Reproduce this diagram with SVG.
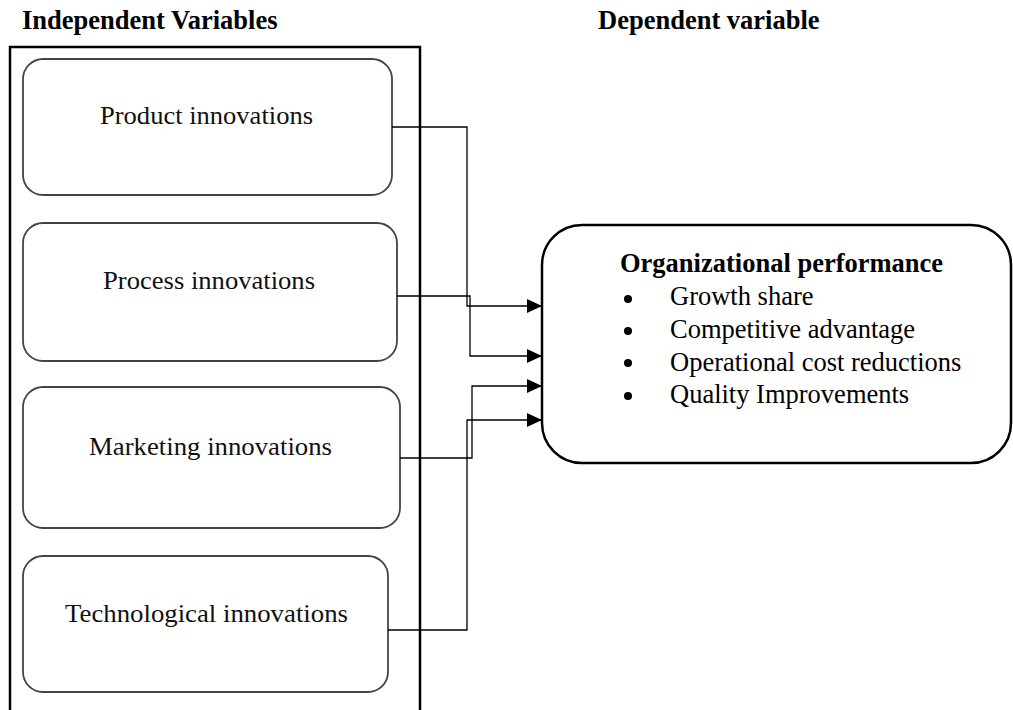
<svg xmlns="http://www.w3.org/2000/svg" width="1013" height="710" viewBox="0 0 1013 710">
<style>
.head{font-family:"Liberation Serif","Times New Roman",serif;font-weight:bold;font-size:26.5px;fill:#000}
.lbl{font-family:"Liberation Serif","Times New Roman",serif;font-size:25px;fill:#111}
.item{font-family:"Liberation Serif","Times New Roman",serif;font-size:26.5px;fill:#000}
.iv{fill:#fff;stroke:#444;stroke-width:1.8}
.conn{fill:none;stroke:#000;stroke-width:1.3}
</style>
<defs>
<marker id="arr" markerUnits="userSpaceOnUse" markerWidth="16" markerHeight="15" refX="15" refY="7" orient="auto">
<path d="M0,0 L15,7 L0,14 z" fill="#000"/>
</marker>
</defs>
<rect width="1013" height="710" fill="#fff"/>
<text class="head" x="22" y="29">Independent Variables</text>
<text class="head" x="598" y="29">Dependent variable</text>
<rect id="frame" x="10" y="47" width="410" height="700" fill="none" stroke="#000" stroke-width="2.5"/>
<g id="product">
<rect class="iv" x="23" y="59" width="369" height="136" rx="20"/>
<text class="lbl" x="100" y="124" textLength="213" lengthAdjust="spacingAndGlyphs">Product innovations</text>
</g>
<g id="process">
<rect class="iv" x="23" y="223" width="374" height="138" rx="20"/>
<text class="lbl" x="103" y="289" textLength="212" lengthAdjust="spacingAndGlyphs">Process innovations</text>
</g>
<g id="marketing">
<rect class="iv" x="23" y="387" width="377" height="141" rx="20"/>
<text class="lbl" x="89" y="455" textLength="243" lengthAdjust="spacingAndGlyphs">Marketing innovations</text>
</g>
<g id="technological">
<rect class="iv" x="23" y="556" width="365" height="136" rx="20"/>
<text class="lbl" x="65" y="622" textLength="283" lengthAdjust="spacingAndGlyphs">Technological innovations</text>
</g>
<g id="performance">
<rect x="542" y="225" width="469" height="238" rx="40" fill="#fff" stroke="#000" stroke-width="2.5"/>
<text class="head" x="620" y="272">Organizational performance</text>
<circle cx="628" cy="299" r="4"/>
<circle cx="628" cy="331" r="4"/>
<circle cx="628" cy="363" r="4"/>
<circle cx="628" cy="396" r="4"/>
<text class="item" x="670" y="305">Growth share</text>
<text class="item" x="670" y="338">Competitive advantage</text>
<text class="item" x="670" y="371">Operational cost reductions</text>
<text class="item" x="670" y="403">Quality Improvements</text>
</g>
<g id="connectors">
<path class="conn" d="M392,127 H467 V306 H542" marker-end="url(#arr)"/>
<path class="conn" d="M397,296 H470 V356 H542" marker-end="url(#arr)"/>
<path class="conn" d="M400,458 H472 V386 H542" marker-end="url(#arr)"/>
<path class="conn" d="M388,630 H467 V420 H542" marker-end="url(#arr)"/>
</g>
</svg>
